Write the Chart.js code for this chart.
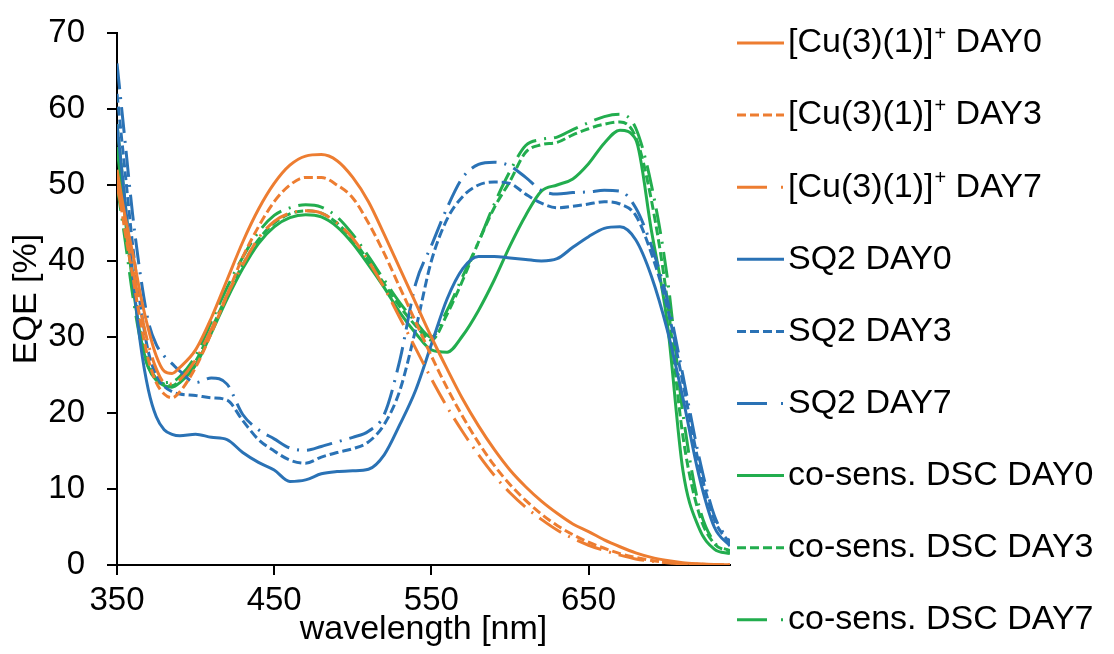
<!DOCTYPE html>
<html>
<head>
<meta charset="utf-8">
<script src="https://cdn.jsdelivr.net/npm/chart.js@4.4.1/dist/chart.umd.min.js"></script>
<style>
  html, body { margin: 0; padding: 0; background: #fff; }
</style>
</head>
<body>
<canvas id="myChart" width="1114" height="654"></canvas>
<script>
// wavelength grid in nm
const wavelengths = [350, 355, 360, 365, 370, 375, 380, 385, 390,
  400, 410, 420, 430, 440, 450, 460, 470, 480, 490,
  500, 510, 520, 530, 540, 550, 560, 570, 580, 590,
  600, 610, 620, 630, 640, 650, 660, 670, 680, 690,
  700, 710, 720, 730, 740];

// EQE [%]
const cuDay0 = [52, 46, 41, 35.5, 31, 27.5, 25.5, 25.2, 26,
  28.3, 32.5, 37.5, 42.5, 46.8, 50.2, 52.6, 53.8, 54, 53.2,
  51, 47.8, 43.5, 39, 34.5, 30, 25.8, 21.8, 18.3, 15.2,
  12.5, 10.3, 8.4, 6.8, 5.4, 4.4, 3.3, 2.4, 1.6, 1.0,
  0.6, 0.3, 0.15, 0.05, 0];
const cuDay3 = [51, 44, 38, 32, 27, 24, 22.5, 22, 22.8,
  26, 30.5, 35.5, 40.5, 44.5, 47.8, 50, 51, 51, 50,
  48.3, 45, 41, 36.5, 32, 27.5, 23.3, 19.5, 16.1, 13.1,
  10.6, 8.5, 6.7, 5.2, 4.0, 3.0, 2.2, 1.5, 1.0, 0.6,
  0.35, 0.2, 0.1, 0.05, 0];
const cuDay7 = [50, 44.5, 39, 33.5, 29, 25.8, 24, 23.8, 24.4,
  27, 31, 35.5, 39.5, 43, 45.2, 46.3, 46.6, 46.3, 45,
  43, 40, 36.5, 32.5, 28.5, 24.5, 20.8, 17.5, 14.5, 11.8,
  9.5, 7.6, 6.0, 4.6, 3.5, 2.6, 1.9, 1.3, 0.8, 0.5,
  0.3, 0.15, 0.08, 0.03, 0];
const sq2Day0 = [58, 48, 38, 29, 23, 19.5, 17.8, 17.2, 17,
  17.2, 16.8, 16.5, 14.8, 13.5, 12.5, 11, 11.2, 12, 12.3,
  12.4, 12.6, 14.5, 18.5, 23, 29, 35, 39, 40.6, 40.6,
  40.4, 40.2, 40, 40.3, 41.8, 43.2, 44.3, 44.5, 42.8, 38,
  31, 22, 12, 5, 2.5];
const sq2Day3 = [62, 52, 42, 34, 28, 25, 23.5, 22.8, 22.5,
  22.3, 22, 21.7, 19, 16.5, 15, 13.8, 13.4, 14.2, 14.8,
  15.3, 16.2, 18.5, 23, 31, 40, 45.5, 48.5, 50, 50.4,
  50.2, 48.8, 47.6, 47, 47.2, 47.5, 47.8, 47.5, 46, 41,
  34, 24, 13.5, 6, 2.8];
const sq2Day7 = [66, 56, 46, 38, 32, 29, 27.5, 26.5, 25.5,
  24, 24.6, 23.8, 19.8, 17.8, 16.6, 15.4, 15.1, 15.6, 16.2,
  16.8, 17.6, 19.8, 27, 37, 42, 47, 51, 52.7, 53,
  52.5, 51, 49.3, 48.8, 49, 49.1, 49.3, 49.2, 47, 42,
  35, 25, 14.5, 6.5, 3];
const coDay0 = [55, 46, 37, 30, 26, 24.3, 23.6, 23.4, 24,
  26.3, 30.5, 35, 39, 42.3, 44.5, 45.7, 46.1, 45.8, 44.5,
  42.3, 39.5, 36.5, 33.2, 30.5, 28.3, 28, 30.2, 33.5, 37.5,
  42, 46, 49.2, 50, 50.8, 52.8, 55.5, 57.2, 56, 44,
  32, 12.5, 5, 2.1, 1.5];
const coDay3 = [58, 48, 38, 30.5, 26.5, 24.5, 23.8, 23.6, 24.3,
  26.8, 31, 35.5, 39.5, 42.8, 45, 46.2, 46.6, 46.3, 45,
  42.8, 40, 37, 34, 31.5, 29.6, 33, 37.5, 42.5, 47,
  50.5, 54.3, 55.3, 55.6, 56.6, 57.4, 58, 58.3, 56.3, 48,
  35, 17, 7, 2.8, 1.8];
const coDay7 = [50, 43, 35.5, 29.5, 26, 24.5, 24, 24.1, 24.8,
  27.5, 32, 36.5, 40.5, 43.8, 46, 47, 47.4, 47.1, 45.8,
  43.5, 40.6, 37.5, 34.5, 32, 30, 33.5, 38, 42.5, 47.5,
  51.8, 55.2, 56, 56.3, 57.3, 58.2, 59, 59.3, 57.5, 50,
  38, 20, 8, 3, 1.9];

const xTickValues = [350, 450, 550, 650];

const ORANGE = '#ED7D31';
const BLUE = '#2A72B5';
const GREEN = '#22AD4E';
const SOLID = [];
const DASH3 = [9, 4];
const DASH7 = [26, 8, 2, 8];

const series = [
  ['[Cu(3)(1)]⁺ DAY0', cuDay0, ORANGE, SOLID],
  ['[Cu(3)(1)]⁺ DAY3', cuDay3, ORANGE, DASH3],
  ['[Cu(3)(1)]⁺ DAY7', cuDay7, ORANGE, DASH7],
  ['SQ2 DAY0', sq2Day0, BLUE, SOLID],
  ['SQ2 DAY3', sq2Day3, BLUE, DASH3],
  ['SQ2 DAY7', sq2Day7, BLUE, DASH7],
  ['co-sens. DSC DAY0', coDay0, GREEN, SOLID],
  ['co-sens. DSC DAY3', coDay3, GREEN, DASH3],
  ['co-sens. DSC DAY7', coDay7, GREEN, DASH7],
];

const FONT = '"Liberation Sans", Arial, sans-serif';

// legend drawn in a column to the right of the plot
const sideLegend = {
  id: 'sideLegend',
  afterDraw(chart) {
    const ctx = chart.ctx;
    ctx.save();
    chart.data.datasets.forEach((ds, i) => {
      const y = 43 + i * 72.1;
      ctx.strokeStyle = ds.borderColor;
      ctx.lineWidth = ds.borderWidth;
      ctx.lineCap = 'butt';
      ctx.setLineDash(ds.borderDash === DASH7 ? [30, 14, 2, 100] : ds.borderDash);
      ctx.beginPath();
      ctx.moveTo(737, y);
      ctx.lineTo(784, y);
      ctx.stroke();
      ctx.setLineDash([]);

      ctx.fillStyle = '#000';
      ctx.textBaseline = 'middle';
      ctx.textAlign = 'left';
      const parts = ds.label.split('⁺');
      let x = 788;
      ctx.font = '34px ' + FONT;
      ctx.fillText(parts[0], x, y);
      x += ctx.measureText(parts[0]).width;
      if (parts.length > 1) {
        ctx.font = '20px ' + FONT;
        ctx.fillText('+', x + 1, y - 9);
        x += ctx.measureText('+').width + 1;
        ctx.font = '34px ' + FONT;
        ctx.fillText(parts[1], x, y);
      }
    });
    ctx.restore();
  }
};

const ctx = document.getElementById('myChart');
new Chart(ctx, {
  type: 'line',
  data: {
    datasets: series.map(([label, values, color, dash]) => ({
      label: label,
      data: wavelengths.map((w, i) => ({x: w, y: values[i]})),
      borderColor: color,
      backgroundColor: color,
      borderWidth: 3,
      borderDash: dash,
      fill: false,
      pointRadius: 0,
      cubicInterpolationMode: 'monotone',
    })),
  },
  options: {
    responsive: false,
    animation: false,
    devicePixelRatio: 1,
    layout: {padding: {left: 0, right: 384, top: 33, bottom: 0}},
    plugins: {
      legend: {display: false},
      tooltip: {enabled: false},
    },
    scales: {
      x: {
        type: 'linear',
        min: 350,
        max: 740,
        afterBuildTicks: scale => {
          scale.ticks = xTickValues.map(v => ({value: v}));
        },
        afterFit: scale => { scale.height = 89; },
        border: {color: '#000', width: 2},
        grid: {drawOnChartArea: false, drawTicks: true, tickLength: 10, color: '#000', lineWidth: 2},
        ticks: {color: '#000', font: {family: FONT, size: 33}, padding: 6, maxRotation: 0},
        title: {
          display: true,
          text: 'wavelength [nm]',
          color: '#000',
          font: {family: FONT, size: 34, lineHeight: 1},
          padding: {top: 0, bottom: 7},
        },
      },
      y: {
        min: 0,
        max: 70,
        afterFit: scale => {
          scale.width = 117;
          scale.paddingTop = 0;
          scale.paddingBottom = 0;
        },
        border: {color: '#000', width: 2},
        grid: {drawOnChartArea: false, drawTicks: true, tickLength: 10, color: '#000', lineWidth: 2},
        ticks: {stepSize: 10, color: '#000', font: {family: FONT, size: 33}, padding: 22},
        title: {
          display: true,
          text: 'EQE [%]',
          color: '#000',
          font: {family: FONT, size: 34, lineHeight: 1},
          padding: {top: 10, bottom: 0},
        },
      },
    },
  },
  plugins: [sideLegend],
});
</script>
</body>
</html>
